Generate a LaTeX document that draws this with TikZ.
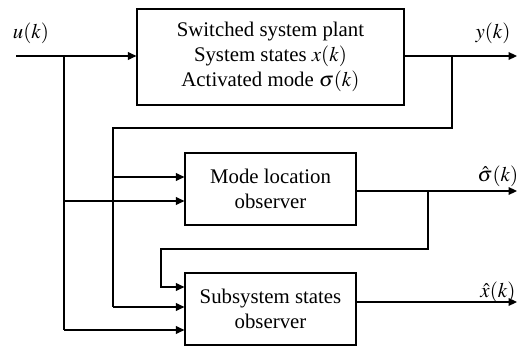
\documentclass[tikz,border=0pt]{standalone}
\usepackage{mathptmx}
\usepackage{fontspec}
\setmainfont{Liberation Serif}
\usetikzlibrary{arrows.meta}

\begin{document}
\begin{tikzpicture}[x=0.025cm, y=-0.025cm, line width=0.8pt,
  font=\fontsize{14.8}{18}\selectfont,
  block/.style={draw, align=center, inner sep=0pt},
  sig/.style={-{Triangle[length=6pt,width=5.5pt]}},
  lbl/.style={inner sep=0pt}]
\useasboundingbox (0,0) rectangle (521,348);

% blocks
\node[block, minimum width=6.675cm, minimum height=2.4cm] (plant) at (270.5,57)
  {Switched system plant\\System states $x(k)$\\Activated mode $\sigma(k)$};
\node[block, minimum width=4.275cm, minimum height=1.8cm] (mode) at (270.5,189)
  {Mode location\\observer};
\node[block, minimum width=4.275cm, minimum height=1.8cm] (sub) at (270.5,309)
  {Subsystem states\\observer};

% signal points
\coordinate (uin) at (16,56);
\coordinate (ubr) at (64,56);
\coordinate (ybr) at (452,56);
\coordinate (yend) at (517,56);
\coordinate (fb) at (113,128);
\coordinate (send) at (517,191);
\coordinate (sbr) at (428,191);
\coordinate (xend) at (517,302);

% labels
\node[lbl] (ulbl) at (31,33) {$u(k)$};
\node[lbl] (ylbl) at (493,33) {$y(k)$};
\node[lbl] (slbl) at (498,176) {$\hat{\sigma}(k)$};
\node[lbl] (xlbl) at (498,292) {$\hat{x}(k)$};

% input
\draw[sig] (uin) -- (plant.west |- uin);
\draw (ubr) -- (64,330);
\draw[sig] (64,201) -- (mode.west |- 0,201);
\draw[sig] (64,330) -- (sub.west |- 0,330);

% output y and feedback
\draw[sig] (plant.east |- yend) -- (yend);
\draw (ybr) -- (452,128) -- (fb) -- (113,307);
\draw[sig] (113,177) -- (mode.west |- 0,177);
\draw[sig] (113,307) -- (sub.west |- 0,307);

% mode estimate
\draw[sig] (mode.east |- send) -- (send);
\draw[sig] (sbr) -- (428,249) -- (161,249) -- (161,287) -- (sub.west |- 0,287);

% state estimate
\draw[sig] (sub.east |- xend) -- (xend);
\end{tikzpicture}
\end{document}
